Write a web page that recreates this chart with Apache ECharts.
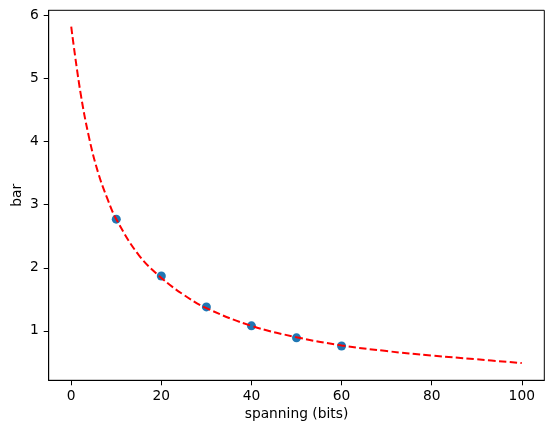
<!DOCTYPE html>
<html>
<head>
<meta charset="utf-8">
<script src="https://cdn.jsdelivr.net/npm/echarts@6/dist/echarts.min.js"></script>
<style>
  html, body { margin: 0; padding: 0; background: #fff; }
  #chart { width: 554px; height: 433px; }
</style>
</head>
<body>
<div id="chart"></div>
<script>
// Measured points
const pointX = [10, 20, 30, 40, 50, 60];
const pointY = [2.77, 1.87, 1.38, 1.08, 0.89, 0.76];

// Dashed fit curve
const curveX = [0, 2, 4, 6, 8, 10, 15, 20, 25, 30, 40, 50, 60, 70, 80, 90, 100];
const curveY = [5.82, 4.8, 4.05, 3.5, 3.1, 2.77, 2.2, 1.84, 1.57, 1.36, 1.08, 0.9, 0.77, 0.68, 0.61, 0.55, 0.49];

// Tick labels
const xTicks = [0, 20, 40, 60, 80, 100];
const yTicks = [1, 2, 3, 4, 5, 6];

const FONT = 'DejaVu Sans';

document.addEventListener('DOMContentLoaded', function() {
    const chart = echarts.init(document.getElementById('chart'), null, { renderer: 'canvas' });

    const axisCommon = {
        type: 'value',
        splitLine: { show: false },
        nameMoveOverlap: false,
        axisLine: { show: true, onZero: false, lineStyle: { color: '#000', width: 1 } },
        axisTick: { show: true, length: 5, lineStyle: { color: '#000', width: 1 } },
        nameTextStyle: { fontFamily: FONT, fontSize: 13.8, color: '#000' }
    };

    const option = {
        animation: false,
        backgroundColor: '#fff',
        grid: {
            left: 48.7, right: 9.7, top: 10.3, bottom: 52.7,
            containLabel: false,
            outerBoundsMode: 'none',
            show: true, borderColor: '#000', borderWidth: 1
        },
        xAxis: Object.assign({}, axisCommon, {
            min: -5,
            max: 105,
            name: 'spanning (bits)',
            nameLocation: 'middle',
            nameGap: 27,
            axisTick: Object.assign({}, axisCommon.axisTick, { customValues: xTicks }),
            axisLabel: {
                customValues: xTicks,
                margin: 9,
                fontFamily: FONT, fontSize: 13.8, color: '#000'
            }
        }),
        yAxis: Object.assign({}, axisCommon, {
            min: 0.217,
            max: 6.08,
            name: 'bar',
            nameLocation: 'middle',
            nameGap: 24,
            axisTick: Object.assign({}, axisCommon.axisTick, { customValues: yTicks }),
            axisLabel: {
                customValues: yTicks,
                margin: 10,
                fontFamily: FONT, fontSize: 13.8, color: '#000'
            }
        }),
        series: [
            {
                type: 'scatter',
                data: pointX.map((x, i) => [x, pointY[i]]),
                symbolSize: 9,
                itemStyle: { color: '#1f77b4', opacity: 1 },
                z: 2
            },
            {
                type: 'line',
                data: curveX.map((x, i) => [x, curveY[i]]),
                smooth: 0.4,
                showSymbol: false,
                lineStyle: { color: '#ff0000', width: 2, type: [7.5, 3.3] },
                z: 3
            }
        ]
    };

    chart.setOption(option);
});
</script>
</body>
</html>
